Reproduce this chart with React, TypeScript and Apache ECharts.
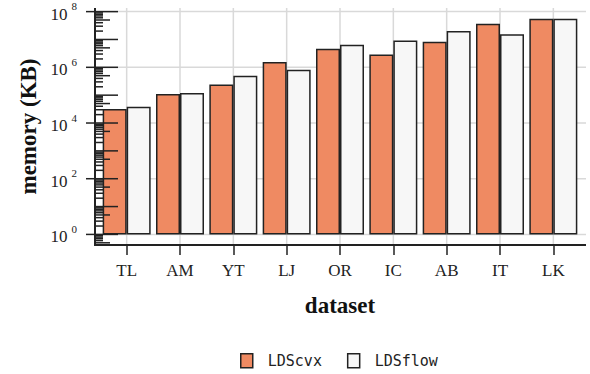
import React, { useEffect, useRef } from "react";
import * as echarts from "echarts";

const categories = ["TL", "AM", "YT", "LJ", "OR", "IC", "AB", "IT", "LK"];
const ldsCvx = [3.2e4, 1.1e5, 2.4e5, 1.55e6, 4.6e6, 2.9e6, 8.2e6, 3.7e7, 5.5e7];
const ldsFlow = [3.8e4, 1.2e5, 5.0e5, 8.1e5, 6.5e6, 9.1e6, 2.0e7, 1.55e7, 5.6e7];
const seriesNames = ["LDScvx", "LDSflow"];
const decadeExponents = [0, 1, 2, 3, 4, 5, 6, 7, 8];
const labelExponents = [0, 2, 4, 6, 8];
const minorMultipliers = [2, 3, 4, 5, 6, 7, 8, 9];
const belowOneTicks = [0.5, 0.6, 0.7, 0.8, 0.9];
const yMinExp = -0.38;
const yMaxExp = 8.13;

const SERIF = "'Liberation Serif', 'DejaVu Serif', serif";
const MONO = "'DejaVu Sans Mono', monospace";
const INK = "#222";

// tick list: [x, value, kind]  kind 0 = labelled decade, 1 = other decade, 2 = 5x, 3 = other minor
function buildTicks() {
  const out: number[][] = [];
  belowOneTicks.forEach((v) => out.push([0, v, v === 0.5 ? 2 : 3]));
  decadeExponents.forEach((e) => {
    out.push([0, Math.pow(10, e), labelExponents.indexOf(e) >= 0 ? 0 : 1]);
    if (e < 8) {
      minorMultipliers.forEach((m) => out.push([0, m * Math.pow(10, e), m === 5 ? 2 : 3]));
    }
  });
  return out;
}

export default function App() {
  const ref = useRef<HTMLDivElement>(null);
  useEffect(() => {
    if (!ref.current) return;
    const chart = echarts.init(ref.current, null, { renderer: "svg" });
    const ticks = buildTicks();
    const option: any = {
      animation: false,
      backgroundColor: "#ffffff",
      grid: { left: 100, right: 10, top: 8, bottom: 129, containLabel: false },
      legend: {
        data: seriesNames,
        left: 240,
        top: 353,
        padding: 0,
        itemWidth: 12,
        itemHeight: 14,
        itemGap: 25,
        icon: "rect",
        itemStyle: { borderColor: INK, borderWidth: 1.5 },
        textStyle: { fontFamily: MONO, fontSize: 15, color: INK, padding: [0, 0, 0, 10] },
      },
      xAxis: {
        type: "category",
        data: categories,
        axisLine: { show: false },
        axisTick: { show: true, alignWithLabel: true, length: 10, lineStyle: { color: INK, width: 1.5 } },
        axisLabel: { fontFamily: SERIF, fontSize: 17, color: INK, margin: 17 },
        splitLine: { show: false },
        name: "dataset",
        nameLocation: "middle",
        nameGap: 49,
        nameTextStyle: { fontFamily: SERIF, fontSize: 23, fontWeight: "bold", color: "#111" },
      },
      yAxis: {
        type: "log",
        logBase: 10,
        min: Math.pow(10, yMinExp),
        max: Math.pow(10, yMaxExp),
        splitNumber: 8,
        offset: 5,
        axisLine: { show: false },
        axisTick: { show: false },
        splitLine: { show: false },
        minorTick: { show: false },
        axisLabel: {
          margin: 18,
          formatter: (v: number) => {
            const l = Math.log10(v);
            const e = Math.round(l);
            if (Math.abs(l - e) > 1e-6 || labelExponents.indexOf(e) < 0) return "";
            return "{b|10}{e|" + e + "}";
          },
          rich: {
            b: { fontFamily: SERIF, fontSize: 17, color: INK, lineHeight: 22, verticalAlign: "bottom" },
            e: { fontFamily: SERIF, fontSize: 11, color: INK, lineHeight: 22, verticalAlign: "top", padding: [0, 0, 0, 4] },
          },
        },
        name: "memory (KB)",
        nameLocation: "middle",
        nameGap: 55,
        nameRotate: 90,
        nameTextStyle: { fontFamily: SERIF, fontSize: 23, fontWeight: "bold", color: "#111" },
      },
      series: [
        {
          type: "custom",
          name: "hgrid",
          silent: true,
          clip: false,
          z: 0,
          data: labelExponents.map((e) => [0, Math.pow(10, e)]),
          renderItem: (params: any, api: any) => {
            const cs = params.coordSys;
            const y = api.coord([0, api.value(1)])[1];
            return {
              type: "line",
              shape: { x1: cs.x - 5, y1: y, x2: cs.x + cs.width + 6, y2: y },
              style: { stroke: "#d9d9d9", lineWidth: 1.5 },
            };
          },
        },
        {
          type: "custom",
          name: "vgrid",
          silent: true,
          clip: false,
          z: 0,
          data: categories.map((c, i) => [i, 1]),
          renderItem: (params: any, api: any) => {
            const cs = params.coordSys;
            const x = api.coord([api.value(0), 1])[0];
            return {
              type: "line",
              shape: { x1: x, y1: cs.y, x2: x, y2: cs.y + cs.height },
              style: { stroke: "#d9d9d9", lineWidth: 1.5 },
            };
          },
        },
        {
          type: "bar",
          name: seriesNames[0],
          data: ldsCvx,
          barWidth: 24,
          barGap: "0%",
          z: 2,
          itemStyle: { color: "#ef8a62", borderColor: INK, borderWidth: 1.5 },
        },
        {
          type: "bar",
          name: seriesNames[1],
          data: ldsFlow,
          barWidth: 24,
          barGap: "0%",
          z: 2,
          itemStyle: { color: "#f7f7f7", borderColor: INK, borderWidth: 1.5 },
        },
        {
          type: "custom",
          name: "yticks",
          silent: true,
          clip: false,
          z: 5,
          data: ticks,
          renderItem: (params: any, api: any) => {
            const cs = params.coordSys;
            const y = api.coord([0, api.value(1)])[1];
            const kind = api.value(2);
            const x0 = cs.x - 5;
            const left = kind === 0 ? 9 : 0;
            const len = kind <= 1 ? 23 : kind === 2 ? 15 : 8;
            return {
              type: "line",
              shape: { x1: x0 - left, y1: y, x2: x0 + len, y2: y },
              style: { stroke: INK, lineWidth: 1.5 },
            };
          },
        },
        {
          type: "custom",
          name: "frame",
          silent: true,
          clip: false,
          z: 6,
          data: [[0, 1]],
          renderItem: (params: any, api: any) => {
            const cs = params.coordSys;
            const x0 = cs.x - 5;
            const yb = cs.y + cs.height;
            return {
              type: "group",
              children: [
                { type: "line", shape: { x1: x0, y1: cs.y, x2: x0, y2: yb + 1 }, style: { stroke: INK, lineWidth: 2 } },
                { type: "line", shape: { x1: x0 - 1, y1: yb, x2: cs.x + cs.width + 6, y2: yb }, style: { stroke: INK, lineWidth: 2 } },
              ],
            };
          },
        },
      ],
    };
    chart.setOption(option);
    return () => chart.dispose();
  }, []);
  return <div ref={ref} style={{ position: "fixed", left: 0, top: 0, width: 590, height: 374 }} />;
}
